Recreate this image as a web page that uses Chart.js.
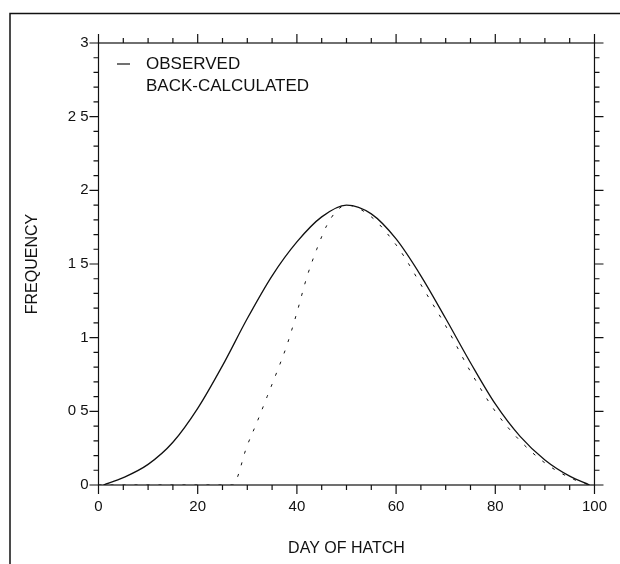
<!DOCTYPE html>
<html>
<head>
<meta charset="utf-8">
<script src="https://cdn.jsdelivr.net/npm/chart.js@4.4.1/dist/chart.umd.min.js"></script>
<style>
  body { margin: 0; background: #fff; }
  #wrap { width: 620px; height: 564px; position: relative; }
</style>
</head>
<body>
<div id="wrap"><canvas id="myChart"></canvas></div>
<script>
// values
const observedDays = [1, 5, 10, 15, 20, 25, 30, 35, 40, 45, 50, 55, 60, 65, 70, 75, 80, 85, 90, 95, 99];
const observed = [0, 0.05, 0.14, 0.29, 0.52, 0.81, 1.13, 1.42, 1.65, 1.82, 1.90, 1.84, 1.67, 1.42, 1.13, 0.83, 0.55, 0.33, 0.17, 0.06, 0];

const backDays = [0, 27, 30, 32, 34, 36, 38, 40, 42, 44, 46, 48, 50, 55, 60, 62, 65, 70, 75, 80, 85, 90, 95, 99];
const backCalculated = [0, 0, 0.27, 0.43, 0.60, 0.77, 0.95, 1.17, 1.41, 1.60, 1.76, 1.86, 1.90, 1.82, 1.63, 1.53, 1.36, 1.08, 0.77, 0.50, 0.30, 0.15, 0.05, 0];

const xTickLabels = ['0', '20', '40', '60', '80', '100'];
const yTickLabels = ['0', '0 5', '1', '1 5', '2', '2 5', '3'];

const FONT = "'Liberation Sans', Arial, Helvetica, sans-serif";
const INK = '#111';

// axis box, tick marks on all four sides, page frame and the legend
const framePlugin = {
    id: 'frameTicks',
    afterDraw(chart) {
        const { ctx, chartArea: a, scales: { x, y } } = chart;
        ctx.save();
        ctx.strokeStyle = INK;
        ctx.lineWidth = 1.2;
        ctx.strokeRect(a.left, a.top, a.right - a.left, a.bottom - a.top);

        ctx.beginPath();
        for (let v = 0; v <= 100; v += 5) {
            const px = x.getPixelForValue(v);
            const len = v % 20 === 0 ? 9 : 5;
            ctx.moveTo(px, a.bottom); ctx.lineTo(px, a.bottom + len);
            ctx.moveTo(px, a.top); ctx.lineTo(px, a.top - len);
        }
        for (let i = 0; i <= 30; i++) {
            const py = y.getPixelForValue(i / 10);
            const len = i % 5 === 0 ? 9 : 5;
            ctx.moveTo(a.left, py); ctx.lineTo(a.left - len, py);
            ctx.moveTo(a.right, py); ctx.lineTo(a.right + len, py);
        }
        ctx.stroke();

        // border of the scanned page
        ctx.lineWidth = 1.5;
        ctx.beginPath();
        ctx.moveTo(10, 564); ctx.lineTo(10, 13.5); ctx.lineTo(620, 13.5);
        ctx.stroke();

        // legend
        const sets = chart.data.datasets;
        ctx.fillStyle = INK;
        ctx.font = '17px ' + FONT;
        ctx.textBaseline = 'middle';
        ctx.textAlign = 'left';
        ctx.lineWidth = 1.2;
        ctx.beginPath();
        ctx.moveTo(117, 64); ctx.lineTo(130, 64);
        ctx.stroke();
        ctx.fillText(sets[0].label, 146, 64);
        ctx.fillText(sets[1].label, 146, 86);
        ctx.restore();
    }
};

const ctx = document.getElementById('myChart').getContext('2d');
const myChart = new Chart(ctx, {
    type: 'line',
    data: {
        datasets: [{
            label: 'OBSERVED',
            data: observedDays.map((d, i) => ({ x: d, y: observed[i] })),
            borderColor: INK,
            borderWidth: 1.3,
            pointRadius: 0,
            cubicInterpolationMode: 'monotone',
            fill: false
        }, {
            label: 'BACK-CALCULATED',
            data: backDays.map((d, i) => ({ x: d, y: backCalculated[i] })),
            borderColor: INK,
            borderWidth: 1,
            borderDash: [3, 9],
            pointRadius: 0,
            cubicInterpolationMode: 'monotone',
            fill: false
        }]
    },
    options: {
        responsive: true,
        maintainAspectRatio: false,
        animation: false,
        layout: { padding: { top: 43, right: 25.5, bottom: 0, left: 0 } },
        plugins: { legend: { display: false }, tooltip: { enabled: false } },
        scales: {
            x: {
                type: 'linear',
                min: 0,
                max: 100,
                afterFit: s => { s.height = 79; },
                grid: { display: false, drawTicks: false, tickLength: 0 },
                border: { display: false },
                ticks: {
                    stepSize: 20,
                    padding: 13,
                    color: INK,
                    font: { family: FONT, size: 15 },
                    callback: (v, i) => xTickLabels[i]
                },
                title: {
                    display: true,
                    text: 'DAY OF HATCH',
                    color: INK,
                    font: { family: FONT, size: 16 },
                    padding: { top: 0, bottom: 6 }
                }
            },
            y: {
                min: 0,
                max: 3,
                afterFit: s => { s.width = 98.5; },
                grid: { display: false, drawTicks: false, tickLength: 0 },
                border: { display: false },
                ticks: {
                    stepSize: 0.5,
                    padding: 10,
                    color: INK,
                    font: { family: FONT, size: 15 },
                    callback: (v, i) => yTickLabels[i]
                },
                title: {
                    display: true,
                    text: 'FREQUENCY',
                    color: INK,
                    font: { family: FONT, size: 16 },
                    padding: { top: 23, bottom: 0 }
                }
            }
        }
    },
    plugins: [framePlugin]
});
</script>
</body>
</html>
